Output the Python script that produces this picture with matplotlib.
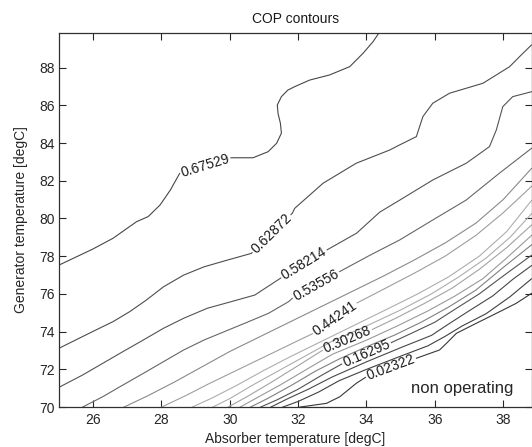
import numpy as np
import matplotlib
matplotlib.use("Agg")
import matplotlib.pyplot as plt

plt.rcParams['font.family'] = ['Liberation Sans', 'DejaVu Sans']

# COP value of each contour, lowest to highest
cop_levels = [0.02322, 0.06980, 0.11637, 0.16295, 0.20952, 0.25610, 0.30268,
              0.34925, 0.39583, 0.44241, 0.48898, 0.53556, 0.58214, 0.62872, 0.67529]

# Contour traces: absorber temperature [degC] vs generator temperature [degC]
absorber_L00 = [32.05, 32.83, 33.22, 33.7, 34.0, 34.7, 35.46, 36.14, 36.34, 36.63, 37.21, 37.8, 38.38, 38.83]
generator_L00 = [70.0, 70.2, 70.55, 71.26, 71.61, 72.1, 72.59, 73.03, 73.38, 73.91, 74.44, 74.97, 75.5, 76.03]

absorber_L01 = [31.55, 32.0, 32.6, 33.2, 34.0, 35.0, 35.8, 36.3, 36.8, 37.5, 38.2, 38.83]
generator_L01 = [70.0, 70.3, 70.8, 71.4, 72.0, 72.7, 73.25, 73.75, 74.3, 74.95, 75.85, 76.8]

absorber_L02 = [31.2, 31.7, 32.3, 33.0, 34.0, 35.0, 35.9, 36.4, 37.0, 37.7, 38.3, 38.83]
generator_L02 = [70.0, 70.45, 70.95, 71.6, 72.4, 73.15, 73.8, 74.4, 75.1, 75.9, 76.8, 77.5]

absorber_L03 = [30.9, 31.4, 32.0, 32.7, 33.31, 34.0, 34.68, 35.3, 36.0, 36.6, 37.3, 38.0, 38.83]
generator_L03 = [70.0, 70.4, 70.95, 71.7, 72.32, 72.85, 73.38, 73.9, 74.5, 75.2, 76.0, 76.95, 78.05]

absorber_L04 = [30.6, 31.1, 31.8, 32.5, 33.2, 34.0, 34.8, 35.6, 36.4, 37.2, 38.0, 38.83]
generator_L04 = [70.0, 70.45, 71.15, 71.9, 72.55, 73.2, 73.8, 74.5, 75.3, 76.2, 77.4, 78.6]

absorber_L05 = [30.3, 30.8, 31.5, 32.2, 33.0, 34.0, 34.9, 35.8, 36.6, 37.4, 38.1, 38.83]
generator_L05 = [70.0, 70.5, 71.2, 71.95, 72.8, 73.55, 74.3, 75.1, 75.9, 76.8, 77.9, 79.1]

absorber_L06 = [29.95, 30.5, 31.2, 32.0, 32.73, 33.44, 34.14, 34.9, 35.7, 36.5, 37.3, 38.1, 38.83]
generator_L06 = [70.0, 70.55, 71.3, 72.2, 73.03, 73.56, 74.09, 74.75, 75.5, 76.3, 77.3, 78.45, 79.65]

absorber_L07 = [29.5, 30.0, 30.7, 31.4, 32.2, 33.0, 34.0, 35.0, 35.9, 36.7, 37.5, 38.2, 38.83]
generator_L07 = [70.0, 70.45, 71.2, 71.9, 72.7, 73.5, 74.3, 75.15, 76.0, 76.9, 77.9, 79.0, 80.25]

absorber_L08 = [28.9, 29.5, 30.2, 31.0, 31.8, 32.7, 33.6, 34.5, 35.5, 36.4, 37.3, 38.1, 38.83]
generator_L08 = [70.0, 70.5, 71.15, 71.95, 72.7, 73.5, 74.3, 75.1, 76.0, 76.9, 78.0, 79.3, 80.95]

absorber_L09 = [28.0, 28.7, 29.4, 30.2, 31.0, 31.8, 32.44, 33.07, 33.7, 34.5, 35.4, 36.3, 37.2, 38.0, 38.83]
generator_L09 = [70.0, 70.6, 71.25, 71.95, 72.65, 73.35, 73.91, 74.71, 75.5, 76.25, 77.1, 78.0, 79.1, 80.3, 81.7]

absorber_L10 = [26.9, 27.6, 28.4, 29.2, 30.0, 30.9, 31.8, 32.7, 33.6, 34.5, 35.4, 36.3, 37.2, 38.0, 38.83]
generator_L10 = [70.0, 70.6, 71.35, 72.15, 72.95, 73.75, 74.55, 75.35, 76.15, 76.95, 77.8, 78.7, 79.75, 81.0, 82.65]

absorber_L11 = [25.69, 26.28, 26.87, 27.47, 28.06, 28.65, 29.25, 29.84, 30.43, 31.13, 31.72,
                31.83, 33.21, 34.1, 34.97, 35.94, 36.92, 37.89, 38.83]
generator_L11 = [70.0, 70.55, 71.17, 71.79, 72.41, 73.03, 73.56, 74.0, 74.44, 74.97, 75.59,
                 75.77, 77.18, 78.05, 78.86, 79.92, 80.98, 82.4, 83.72]

absorber_L12 = [25.0, 25.69, 26.28, 26.87, 27.47, 28.06, 28.65, 29.34, 30.04, 30.73, 31.49,
                32.84, 33.71, 34.39, 34.97, 35.94, 36.92, 37.6, 37.8, 37.99, 38.28, 38.83]
generator_L12 = [71.05, 71.7, 72.32, 72.94, 73.56, 74.18, 74.71, 75.24, 75.59, 75.94, 76.84,
                 78.33, 79.22, 80.34, 80.97, 82.04, 82.93, 83.81, 84.69, 85.93, 86.46, 86.72]

absorber_L13 = [25.0, 25.39, 25.98, 26.58, 27.07, 27.56, 28.06, 28.65, 29.25, 29.94, 30.63,
                31.83, 31.9, 32.73, 33.7, 34.68, 34.97, 35.46, 35.65, 35.94, 36.43, 37.41,
                38.19, 38.48, 38.83]
generator_L13 = [73.12, 73.47, 74.0, 74.53, 75.06, 75.68, 76.38, 77.0, 77.44, 77.8, 78.15,
                 80.28, 80.54, 81.87, 82.93, 83.63, 83.9, 84.34, 85.4, 86.11, 86.64, 87.17,
                 88.05, 88.58, 89.2]

absorber_L14 = [25.0, 25.98, 26.58, 27.27, 27.61, 27.96, 28.26, 28.55, 30.0, 30.68, 31.12,
                31.37, 31.51, 31.48, 31.41, 31.39, 31.51, 31.7, 31.9, 32.34, 32.92, 33.51,
                33.9, 34.19, 34.37]
generator_L14 = [77.53, 78.37, 78.95, 79.83, 80.1, 80.72, 81.51, 82.45, 83.22, 83.22, 83.54,
                 83.99, 84.52, 85.05, 85.58, 86.02, 86.46, 86.81, 86.99, 87.34, 87.61, 88.05,
                 88.76, 89.37, 89.85]

absorber_traces = [absorber_L00, absorber_L01, absorber_L02, absorber_L03, absorber_L04,
                   absorber_L05, absorber_L06, absorber_L07, absorber_L08, absorber_L09,
                   absorber_L10, absorber_L11, absorber_L12, absorber_L13, absorber_L14]
generator_traces = [generator_L00, generator_L01, generator_L02, generator_L03, generator_L04,
                    generator_L05, generator_L06, generator_L07, generator_L08, generator_L09,
                    generator_L10, generator_L11, generator_L12, generator_L13, generator_L14]

# Inline labels: which contour, and absorber temperature at the label centre
label_index = [0, 3, 6, 9, 11, 12, 13, 14]
label_absorber = [34.71, 34.0, 33.44, 33.07, 32.52, 32.17, 31.22, 29.27]

x_ticks = [26, 28, 30, 32, 34, 36, 38]
y_ticks = [70, 72, 74, 76, 78, 80, 82, 84, 86, 88]

# line shade per contour (dark at both ends of the COP range, light in between)
line_grays = [0.22, 0.25, 0.28, 0.32, 0.5, 0.6, 0.64, 0.68, 0.68, 0.62, 0.54, 0.4, 0.33, 0.3, 0.28]

W, H = 532, 447
fig = plt.figure(figsize=(W / 100, H / 100), dpi=100)
ax_left, ax_right, ax_top, ax_bottom = 59, 531.5, 32.7, 407.1
ax = fig.add_axes([ax_left / W, 1 - ax_bottom / H, (ax_right - ax_left) / W, (ax_bottom - ax_top) / H])
ax.set_xlim(25, 38.83)
ax.set_ylim(70, 89.85)
ax.set_xticks(x_ticks)
ax.set_yticks(y_ticks)
ax.tick_params(direction='in', top=True, right=True, length=5, width=0.8,
               labelsize=10, colors='#262626')
ax.tick_params(axis='x', pad=4)
ax.tick_params(axis='y', pad=3)
for sp in ax.spines.values():
    sp.set_color('#303030')
    sp.set_linewidth(0.9)

renderer = fig.canvas.get_renderer()


def split_for_label(xs, ys, x_center, gap_px):
    pts = ax.transData.transform(np.column_stack([xs, ys]))
    d = np.hypot(np.diff(pts[:, 0]), np.diff(pts[:, 1]))
    s = np.concatenate([[0.0], np.cumsum(d)])
    i = next(k for k in range(1, len(xs)) if xs[k] >= x_center)
    f = (x_center - xs[i - 1]) / (xs[i] - xs[i - 1])
    s0 = s[i - 1] + f * d[i - 1]
    sa, sb = s0 - gap_px / 2, s0 + gap_px / 2

    def at(sv):
        return np.array([np.interp(sv, s, pts[:, 0]), np.interp(sv, s, pts[:, 1])])

    pa, pb = at(sa), at(sb)
    left = np.vstack([pts[s < sa], pa])
    right = np.vstack([pb, pts[s > sb]])
    inv = ax.transData.inverted()
    angle = np.degrees(np.arctan2(pb[1] - pa[1], pb[0] - pa[0]))
    centre = inv.transform((pa + pb) / 2)
    return [inv.transform(left), inv.transform(right)], angle, centre


for k, (xs, ys) in enumerate(zip(absorber_traces, generator_traces)):
    color = str(line_grays[k])
    if k in label_index:
        xc = label_absorber[label_index.index(k)]
        txt = ax.text(0, 0, f"{cop_levels[k]:.5f}", fontsize=10, color='#1a1a1a',
                      ha='center', va='center', rotation_mode='anchor', zorder=3)
        width = txt.get_window_extent(renderer).width
        pieces, angle, centre = split_for_label(xs, ys, xc, width + 4)
        txt.set_position(centre)
        txt.set_rotation(angle)
        for p in pieces:
            ax.plot(p[:, 0], p[:, 1], color=color, lw=0.8, solid_joinstyle='round')
    else:
        ax.plot(xs, ys, color=color, lw=0.8, solid_joinstyle='round')

ax.text(35.31, 71.0, "non operating", fontsize=12, color='#262626', ha='left', va='center')

fig.text((ax_left + ax_right) / 2 / W, 1 - 22.7 / H, "COP contours", fontsize=10,
         color='#1a1a1a', ha='center', va='baseline')
fig.text((ax_left + ax_right) / 2 / W, 1 - 443 / H, "Absorber temperature [degC]", fontsize=10,
         color='#262626', ha='center', va='baseline')
fig.text(21 / W, 1 - (ax_top + ax_bottom) / 2 / H, "Generator temperature [degC]", fontsize=10,
         color='#262626', ha='center', va='center', rotation=90)

fig.savefig("out.png", dpi=100, facecolor='white')
